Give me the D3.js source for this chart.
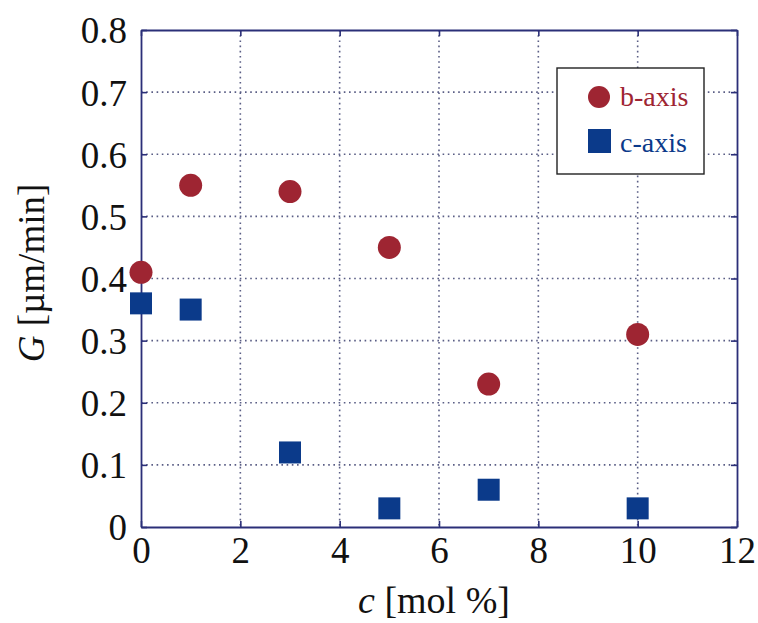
<!DOCTYPE html>
<html><head><meta charset="utf-8">
<script src="https://cdn.jsdelivr.net/npm/d3@7"></script>
<style>body{margin:0;background:#fff}</style>
</head><body>
<svg id="c" width="758" height="623"></svg>
<script>
const xTicks = [0,2,4,6,8,10,12];
const yTicks = [0,0.1,0.2,0.3,0.4,0.5,0.6,0.7,0.8];
const yTickLabels = ["0","0.1","0.2","0.3","0.4","0.5","0.6","0.7","0.8"];
const concentration = [0,1,3,5,7,10];
const bAxis = [0.41,0.55,0.54,0.45,0.23,0.31];
const cAxis = [0.36,0.35,0.12,0.03,0.06,0.03];
const seriesNames = ["b-axis","c-axis"];

const svg = d3.select("#c");
const L=141,R=737,T=30,B=527;
const x = d3.scaleLinear().domain([0,12]).range([L,R]);
const y = d3.scaleLinear().domain([0,0.8]).range([B,T]);
const axisCol="#2b2f78", red="#9e2532", blue="#0b3a8a";
const font="'Liberation Serif','Times New Roman',serif";

// grid
const g = svg.append("g");
xTicks.slice(1,-1).forEach(t=>g.append("line").attr("x1",x(t)).attr("x2",x(t)).attr("y1",T).attr("y2",B)
  .attr("stroke","#5a5e85").attr("stroke-width",1.6).attr("stroke-dasharray","1.6,3.6"));
yTicks.slice(1,-1).forEach(t=>g.append("line").attr("x1",L).attr("x2",R).attr("y1",y(t)).attr("y2",y(t))
  .attr("stroke","#5a5e85").attr("stroke-width",1.6).attr("stroke-dasharray","1.6,3.6"));

// axes
const ax = svg.append("g").attr("transform",`translate(0,${B})`)
  .call(d3.axisBottom(x).tickValues(xTicks).tickSizeInner(-6).tickSizeOuter(0).tickPadding(9));
const ay = svg.append("g").attr("transform",`translate(${L},0)`)
  .call(d3.axisLeft(y).tickValues(yTicks).tickFormat((d,i)=>yTickLabels[i]).tickSizeInner(-6).tickSizeOuter(0).tickPadding(14));
const at = svg.append("g").attr("transform",`translate(0,${T})`)
  .call(d3.axisTop(x).tickValues(xTicks).tickSizeInner(-6).tickSizeOuter(0).tickFormat(""));
const ar = svg.append("g").attr("transform",`translate(${R},0)`)
  .call(d3.axisRight(y).tickValues(yTicks).tickSizeInner(-6).tickSizeOuter(0).tickFormat(""));
[ax,ay,at,ar].forEach(a=>{
  a.select(".domain").attr("stroke",axisCol).attr("stroke-width",1.8);
  a.selectAll(".tick line").attr("stroke",axisCol).attr("stroke-width",1.6);
  a.selectAll("text").attr("fill","#111").style("font-family",font).style("font-size","37px");
});
ax.selectAll("text").attr("dy","0.72em");
ay.selectAll("text").attr("dy","0.35em");

// points
svg.append("g").selectAll("rect").data(concentration).join("rect")
  .attr("x",(d)=>x(d)-11).attr("y",(d,i)=>y(cAxis[i])-11).attr("width",22).attr("height",22).attr("fill",blue);
svg.append("g").selectAll("circle").data(concentration).join("circle")
  .attr("cx",d=>x(d)).attr("cy",(d,i)=>y(bAxis[i])).attr("r",11.5).attr("fill",red);

// legend
const lg = svg.append("g");
lg.append("rect").attr("x",557).attr("y",68).attr("width",147).attr("height",106)
  .attr("fill","#fff").attr("stroke","#222").attr("stroke-width",1.4);
lg.append("circle").attr("cx",599).attr("cy",97).attr("r",11).attr("fill",red);
lg.append("rect").attr("x",588).attr("y",129).attr("width",23).attr("height",24).attr("fill",blue);
lg.append("text").attr("x",620).attr("y",106).text(seriesNames[0]).attr("fill",red)
  .style("font-family",font).style("font-size","28px");
lg.append("text").attr("x",620).attr("y",152).text(seriesNames[1]).attr("fill",blue)
  .style("font-family",font).style("font-size","28px");

// axis labels
const xl = svg.append("text").attr("x",434).attr("y",613).attr("text-anchor","middle")
  .style("font-family",font).style("font-size","38px").attr("fill","#111");
xl.append("tspan").style("font-style","italic").text("c");
xl.append("tspan").text(" [mol %]");
const yl = svg.append("text").attr("transform","translate(44,273) rotate(-90)").attr("text-anchor","middle")
  .style("font-family",font).style("font-size","37px").attr("fill","#111");
yl.append("tspan").style("font-style","italic").text("G");
yl.append("tspan").text(" [µm/min]");
</script>
</body></html>
